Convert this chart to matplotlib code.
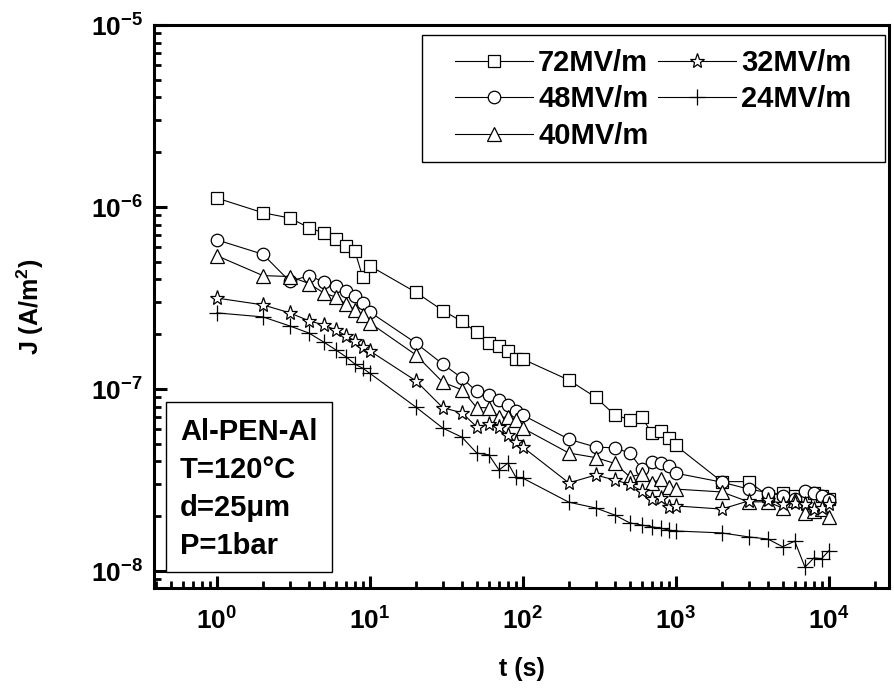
import math
import matplotlib
matplotlib.use("Agg")
import matplotlib.pyplot as plt
from matplotlib.patches import Rectangle
from matplotlib.ticker import FixedLocator, LogLocator, FuncFormatter, NullFormatter

plt.rcParams['font.family'] = ['Liberation Sans', 'DejaVu Sans']
plt.rcParams['mathtext.fontset'] = 'custom'
plt.rcParams['mathtext.rm'] = 'Liberation Sans:bold'
plt.rcParams['mathtext.bf'] = 'Liberation Sans:bold'
plt.rcParams['mathtext.it'] = 'Liberation Sans:bold'
plt.rcParams['axes.unicode_minus'] = False

# time points (s)
t = [1, 2, 3, 4, 5, 6, 7, 8, 9,
     10, 20, 30, 40, 50, 60, 70, 80, 90,
     100, 200, 300, 400, 500, 600, 700, 800, 900,
     1000, 2000, 3000, 4000, 5000, 6000, 7000, 8000, 9000, 10000]

J_72 = [1.12e-6, 9.3e-7, 8.7e-7, 7.7e-7, 7.2e-7, 6.7e-7, 6.1e-7, 5.7e-7, 4.1e-7,
        4.75e-7, 3.4e-7, 2.7e-7, 2.35e-7, 2.05e-7, 1.8e-7, 1.72e-7, 1.62e-7, 1.46e-7,
        1.46e-7, 1.12e-7, 9.0e-8, 7.2e-8, 6.8e-8, 7.0e-8, 5.7e-8, 5.9e-8, 5.4e-8,
        4.9e-8, 3.1e-8, 3.1e-8, 2.6e-8, 2.7e-8, 2.6e-8, 2.6e-8, 2.7e-8, 2.6e-8, 2.5e-8]
J_48 = [6.6e-7, 5.5e-7, 3.9e-7, 4.2e-7, 3.87e-7, 3.68e-7, 3.45e-7, 3.24e-7, 2.97e-7,
        2.65e-7, 1.79e-7, 1.37e-7, 1.15e-7, 9.7e-8, 9.3e-8, 8.7e-8, 8.2e-8, 7.6e-8,
        7.2e-8, 5.3e-8, 4.8e-8, 4.75e-8, 4.45e-8, 3.65e-8, 3.97e-8, 3.92e-8, 3.77e-8,
        3.45e-8, 3.08e-8, 2.82e-8, 2.7e-8, 2.6e-8, 2.5e-8, 2.75e-8, 2.7e-8, 2.57e-8, 2.45e-8]
J_40 = [5.4e-7, 4.2e-7, 4.15e-7, 3.8e-7, 3.37e-7, 3.2e-7, 2.93e-7, 2.72e-7, 2.55e-7,
        2.31e-7, 1.54e-7, 1.09e-7, 9.9e-8, 7.9e-8, 7.9e-8, 7.0e-8, 7.0e-8, 6.8e-8,
        6.1e-8, 4.45e-8, 4.2e-8, 3.9e-8, 3.3e-8, 3.4e-8, 3.05e-8, 3.2e-8, 2.9e-8,
        2.82e-8, 2.72e-8, 2.4e-8, 2.4e-8, 2.22e-8, 2.45e-8, 2.08e-8, 2.15e-8, 2.2e-8, 1.98e-8]
J_32 = [3.16e-7, 2.9e-7, 2.62e-7, 2.37e-7, 2.25e-7, 2.11e-7, 1.96e-7, 1.84e-7, 1.7e-7,
        1.62e-7, 1.11e-7, 7.9e-8, 7.4e-8, 6.2e-8, 6.4e-8, 6.2e-8, 5.6e-8, 5.1e-8,
        4.8e-8, 3.05e-8, 3.37e-8, 3.16e-8, 3.0e-8, 2.75e-8, 2.5e-8, 2.53e-8, 2.25e-8,
        2.28e-8, 2.19e-8, 2.43e-8, 2.45e-8, 2.35e-8, 2.37e-8, 2.33e-8, 2.2e-8, 2.23e-8, 2.35e-8]
J_24 = [2.62e-7, 2.49e-7, 2.22e-7, 2.03e-7, 1.81e-7, 1.64e-7, 1.5e-7, 1.37e-7, 1.3e-7,
        1.22e-7, 7.96e-8, 6.1e-8, 5.44e-8, 4.45e-8, 4.35e-8, 3.59e-8, 3.92e-8, 3.28e-8,
        3.24e-8, 2.39e-8, 2.22e-8, 2.03e-8, 1.84e-8, 1.79e-8, 1.75e-8, 1.72e-8, 1.68e-8,
        1.66e-8, 1.62e-8, 1.54e-8, 1.5e-8, 1.36e-8, 1.46e-8, 1.05e-8, 1.18e-8, 1.17e-8, 1.29e-8]

labels = ['72MV/m', '48MV/m', '40MV/m', '32MV/m', '24MV/m']
series = [J_72, J_48, J_40, J_32, J_24]
markers = ['s', 'o', '^', '*', '+']
msizes = [8, 9, 10, 11, 11]

info_lines = ['Al-PEN-Al', 'T=120°C', 'd=25μm', 'P=1bar']
xtick_vals = [1, 10, 100, 1000, 10000]
ytick_vals = [1e-8, 1e-7, 1e-6, 1e-5]

W, H = 894, 693
fig = plt.figure(figsize=(W / 100, H / 100), dpi=100)
L, R, T, B = 154, 889, 25, 588
ax = fig.add_axes([L / W, 1 - B / H, (R - L) / W, (B - T) / H])


def ax_frac(px, py):
    return (px - L) / (R - L), (B - py) / (B - T)


for y, lab, m, ms in zip(series, labels, markers, msizes):
    ax.plot(t, y, color='black', lw=0.8, marker=m, ms=ms,
            mfc='white' if m != '+' else 'black', mec='black', mew=0.9,
            label=lab)

ax.set_xscale('log')
ax.set_yscale('log')
ax.set_xlim(0.388, 2.48e4)
ax.set_ylim(8.07e-9, 1e-5)

ax.xaxis.set_major_locator(FixedLocator(xtick_vals))
ax.yaxis.set_major_locator(FixedLocator(ytick_vals))
ax.xaxis.set_minor_locator(LogLocator(base=10, subs=range(2, 10), numticks=20))
ax.yaxis.set_minor_locator(LogLocator(base=10, subs=range(2, 10), numticks=20))
ax.xaxis.set_minor_formatter(NullFormatter())
ax.yaxis.set_minor_formatter(NullFormatter())

fmt = FuncFormatter(lambda v, p: r'$\mathbf{10^{%d}}$' % round(math.log10(v)))
ax.xaxis.set_major_formatter(fmt)
ax.yaxis.set_major_formatter(fmt)

ax.tick_params(which='both', direction='in', top=False, right=False, labelsize=19)
ax.tick_params(which='major', length=9, width=2.2)
ax.tick_params(which='minor', length=5, width=2.0)
ax.tick_params(axis='x', pad=14)
ax.tick_params(axis='y', pad=8)
for s in ax.spines.values():
    s.set_linewidth(2.2)

ax.set_xlabel('t (s)', fontsize=18, fontweight='bold', labelpad=16)
ax.set_ylabel('J (A/m$^{2}$)', fontsize=18, fontweight='bold', labelpad=32)

# legend (frame drawn separately)
lx, ly = ax_frac(455, 49)
leg = ax.legend(loc='upper left', ncol=2, bbox_to_anchor=(lx, ly),
                prop={'size': 21, 'weight': 'bold'}, handlelength=2.67,
                numpoints=1, frameon=False, borderpad=0, borderaxespad=0,
                columnspacing=0.34, handletextpad=0.18, labelspacing=0.29)
x0, y0 = ax_frac(422, 162)
x1, y1 = ax_frac(885, 35)
ax.add_patch(Rectangle((x0, y0), x1 - x0, y1 - y0, transform=ax.transAxes,
                       fill=False, ec='black', lw=1.0, zorder=6))

# info box
tx, ty = ax_frac(180, 418)
ax.text(tx, ty, '\n'.join(info_lines), transform=ax.transAxes,
        fontsize=21, fontweight='bold', va='top', ha='left', linespacing=1.46,
        zorder=7)
bx0, by0 = ax_frac(166, 572)
bx1, by1 = ax_frac(332, 402)
ax.add_patch(Rectangle((bx0, by0), bx1 - bx0, by1 - by0, transform=ax.transAxes,
                       fc='white', ec='black', lw=1.0, zorder=6))

fig.savefig('out.png', dpi=100)
